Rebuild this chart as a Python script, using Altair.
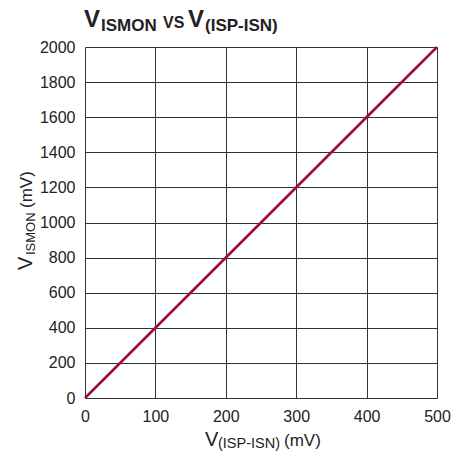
import altair as alt
import pandas as pd

# data
x_mv = [0, 500]
y_mv = [0, 2000]
x_ticks = [0, 100, 200, 300, 400, 500]
y_ticks = [0, 200, 400, 600, 800, 1000, 1200, 1400, 1600, 1800, 2000]

FONT = "Liberation Sans"
W, H = 352, 351

df = pd.DataFrame({"x": x_mv, "y": y_mv})

axis_common = dict(title=None, grid=True, ticks=False, domain=False, format="d",
                   labelFlush=False, labelFontSize=16, labelFont=FONT, labelColor="#222",
                   gridColor="#333", gridOpacity=1, gridWidth=1)

line = alt.Chart(df).mark_line(color="#9c0f35", strokeWidth=2.6, clip=False).encode(
    x=alt.X("x:Q", scale=alt.Scale(domain=[0, 500], nice=False),
            axis=alt.Axis(values=x_ticks, labelPadding=10, **axis_common)),
    y=alt.Y("y:Q", scale=alt.Scale(domain=[0, 2000], nice=False),
            axis=alt.Axis(values=y_ticks, labelPadding=10, **axis_common)),
)


def piece(text, x, y, size, bold=False, angle=0):
    kw = dict(text=text, font=FONT, fontSize=size, align="left", baseline="alphabetic",
              color="#222", fontWeight="bold" if bold else "normal")
    if angle:
        kw["angle"] = angle
    return alt.Chart(pd.DataFrame({"a": [0]})).mark_text(**kw).encode(
        x=alt.value(x), y=alt.value(y))


texts = [
    # title
    piece("V", -1, -20, 24, True),
    piece("ISMON", 16, -16, 17, True),
    piece("VS", 78, -19, 16, True),
    piece("V", 103, -20, 24, True),
    piece("(ISP-ISN)", 120, -16, 17, True),
    # x axis title
    piece("V", 120, 399, 20),
    piece("(ISP-ISN)", 133, 401, 14.5),
    piece("(mV)", 199, 399, 17),
    # y axis title
    piece("V", -53, 223, 20, angle=270),
    piece("ISMON", -50, 208, 13, angle=270),
    piece("(mV)", -53, 161, 17, angle=270),
]

chart = alt.layer(line, *texts).properties(
    width=W, height=H,
    autosize=alt.AutoSizeParams(type="none"),
    padding={"left": 77, "top": 39, "right": 24, "bottom": 53},
).configure_view(stroke="#333", strokeWidth=1.5).configure(background="white")

chart.save("out.html", embed_options={"renderer": "svg", "actions": False})
